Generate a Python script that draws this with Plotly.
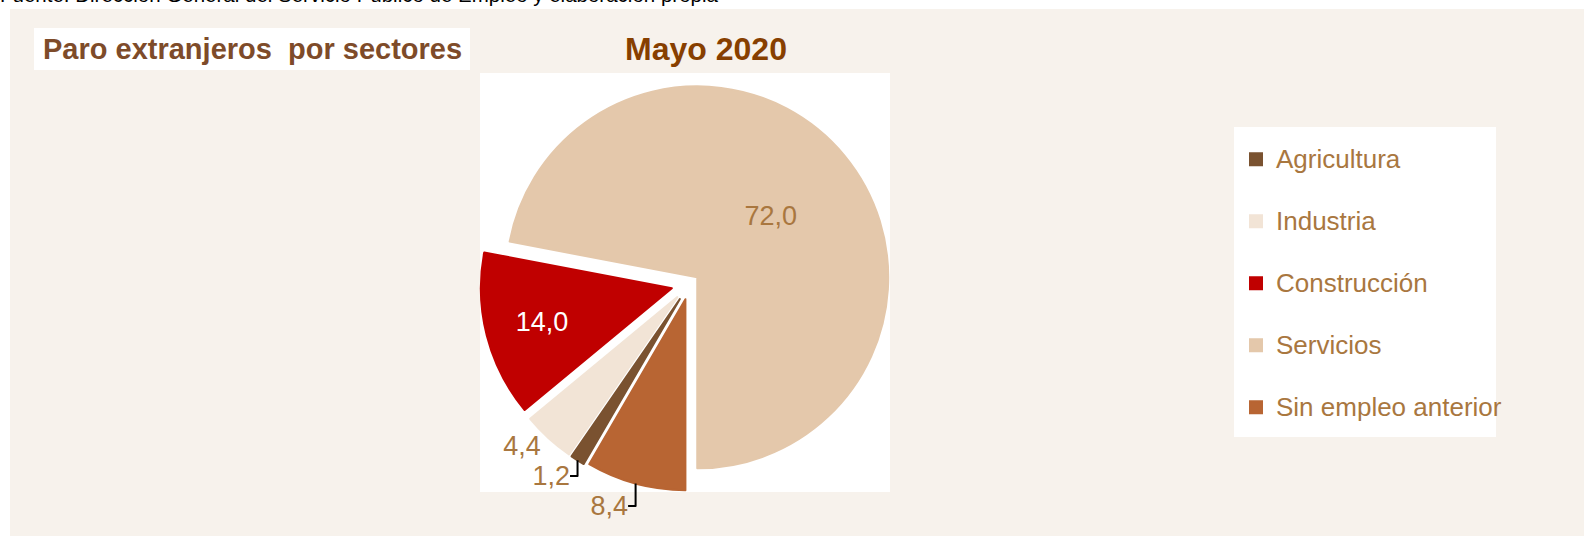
import plotly.graph_objects as go

W, H = 1584, 536

# ---- data ----
categories = ["Agricultura", "Industria", "Construcción", "Servicios", "Sin empleo anterior"]
values = [1.2, 4.4, 14.0, 72.0, 8.4]
title_text = "Mayo 2020"
box_title = "Paro extranjeros\u00a0 por sectores"
source_text = "Fuente: Dirección General del Servicio Público de Empleo y elaboración propia"

# ---- styles ----
colors = ["#7A5230", "#F2E4D6", "#C00000", "#E4C8AB", "#B86533"]
pulls = [0.095, 0.095, 0.096, 0.052, 0.084]
text_positions = ["outside", "outside", "inside", "inside", "outside"]
text_colors = ["#A9773F", "#A9773F", "#FFFFFF", "#A9773F", "#A9773F"]
BEIGE = "#F7F2EC"
LEGEND_TXT = "#A9773F"


def px(x):
    return x / W


def py(y):
    return 1 - y / H


def rect(x0, y0, x1, y1, color):
    return dict(type="rect", xref="paper", yref="paper", x0=px(x0), x1=px(x1),
                y0=py(y1), y1=py(y0), fillcolor=color, line=dict(width=0), layer="below")


legend_labels = [f"<span style='font-size:26px'>{c}</span><br>\u00a0" for c in categories]

# pie geometry
cx, cy, r = 689.6, 283.7, 190
half = (r + 1) * (1 + max(pulls))

fig = go.Figure(go.Pie(
    labels=legend_labels,
    values=values,
    sort=False,
    direction="clockwise",
    rotation=210.24,
    pull=pulls,
    marker=dict(colors=colors, line=dict(color=colors, width=2)),
    texttemplate="%{value:.1f}",
    textposition=text_positions,
    textfont=dict(family="Liberation Sans, Arial", size=27, color=text_colors),
    insidetextorientation="horizontal",
    hoverinfo="none",
    domain=dict(x=[px(cx - half), px(cx + half)], y=[py(cy + half), py(cy - half)]),
))

shapes = [
    rect(10, 9, W, H, BEIGE),
    rect(34, 28, 470, 70, "white"),
    rect(480, 73, 890, 492, "white"),
    rect(1234, 127, 1496, 437, "white"),
]

annotations = [
    dict(text=source_text, xref="paper", yref="paper", x=px(-2), y=py(-5.5), xanchor="left",
         yanchor="middle", showarrow=False, font=dict(family="Liberation Sans, Arial", size=20.5, color="#000000")),
    dict(text=f"<b>{box_title}</b>", xref="paper", yref="paper", x=px(252), y=py(49), xanchor="center",
         yanchor="middle", showarrow=False, font=dict(family="Liberation Sans, Arial", size=29, color="#7E4B29")),
]

fig.update_layout(
    width=W, height=H,
    margin=dict(l=0, r=0, t=0, b=0, autoexpand=False),
    paper_bgcolor="white",
    plot_bgcolor="white",
    separators=",.",
    title=dict(text=f"<b>{title_text}</b>", x=px(706), y=py(49), xanchor="center", yanchor="middle",
               xref="paper", yref="container",
               font=dict(family="Liberation Sans, Arial", size=32, color="#873F00")),
    showlegend=True,
    legend=dict(x=px(1236), y=py(138), xanchor="left", yanchor="top", bgcolor="rgba(0,0,0,0)",
                font=dict(family="Liberation Sans, Arial", size=22.7, color=LEGEND_TXT),
                valign="top", traceorder="normal"),
    shapes=shapes,
    annotations=annotations,
)

fig.write_html(
    "out.html",
    config={"displayModeBar": False},
    post_script="document.body.style.margin='0';document.body.style.overflow='hidden';",
)
